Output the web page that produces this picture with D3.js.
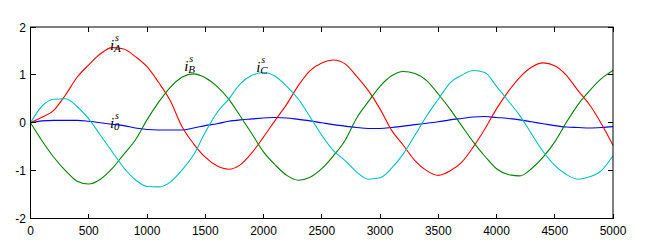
<!DOCTYPE html>
<html>
<head>
<meta charset="utf-8">
<script src="https://cdn.jsdelivr.net/npm/d3@7"></script>
<style>
  body { margin: 0; background: #fff; }
  svg { display: block; font-family: Arial, "Liberation Sans", sans-serif; }
  .tick-label { font-size: 12px; fill: #000; }
  .series { fill: none; stroke-width: 1.1; }
  .lbl { font-family: "Liberation Serif", "DejaVu Serif", serif; font-style: italic; fill: #000; }
</style>
</head>
<body>
<svg></svg>
<script>
// samples every 100 units
const xs = d3.range(0, 5001, 100)

const iA = [0, 0.12, 0.26, 0.58, 0.95, 1.21, 1.44, 1.57, 1.54, 1.38, 1.17, 0.84, 0.46, -0.08, -0.44, -0.72, -0.90,
  -0.97, -0.88, -0.63, -0.30, 0.05, 0.39, 0.78, 1.09, 1.25, 1.31, 1.23, 0.97, 0.67, 0.29, -0.16, -0.47, -0.79,
  -1.00, -1.10, -1.01, -0.83, -0.51, -0.13, 0.29, 0.65, 0.95, 1.16, 1.25, 1.19, 0.99, 0.67, 0.37, -0.02, -0.47]

const iB = [0, -0.38, -0.72, -1.00, -1.22, -1.28, -1.18, -0.96, -0.66, -0.36, 0.06, 0.43, 0.74, 0.95, 1.02, 0.94, 0.76,
  0.50, 0.14, -0.23, -0.61, -0.88, -1.10, -1.20, -1.14, -0.96, -0.69, -0.37, 0.10, 0.44, 0.76, 0.98, 1.07, 1.03,
  0.88, 0.60, 0.29, -0.06, -0.40, -0.70, -0.96, -1.08, -1.11, -0.96, -0.72, -0.40, 0.01, 0.38, 0.67, 0.92, 1.09]

const iC = [0, 0.35, 0.49, 0.50, 0.34, 0.08, -0.26, -0.60, -0.94, -1.19, -1.33, -1.34, -1.24, -0.99, -0.67, -0.20, 0.21,
  0.49, 0.81, 0.99, 1.05, 0.97, 0.76, 0.49, 0.12, -0.26, -0.58, -0.79, -1.03, -1.18, -1.15, -0.95, -0.65, -0.26,
  0.14, 0.49, 0.83, 0.99, 1.09, 1.05, 0.76, 0.46, 0.15, -0.23, -0.60, -0.89, -1.08, -1.18, -1.13, -1.00, -0.69]

const i0 = [0, 0.04, 0.05, 0.05, 0.05, 0.03, 0.00, -0.03, -0.06, -0.11, -0.14, -0.15, -0.15, -0.15, -0.11, -0.06, -0.02,
  0.03, 0.06, 0.08, 0.10, 0.11, 0.10, 0.07, 0.04, 0.00, -0.04, -0.07, -0.10, -0.12, -0.12, -0.10, -0.07, -0.04,
  -0.01, 0.02, 0.06, 0.09, 0.12, 0.13, 0.11, 0.09, 0.06, 0.02, -0.02, -0.06, -0.09, -0.10, -0.11, -0.10, -0.08]

const xTicks = d3.range(0, 5001, 500)
const yTicks = [-2, -1, 0, 1, 2]

// curve labels: subscript, anchor (data units)
const labelNames = ["A", "B", "C", "0"]
const labelX = [683, 1319, 1937, 683]
const labelY = [1.51, 1.09, 1.05, -0.10]

const series = [
  { values: i0, color: "#0000ff" },
  { values: iA, color: "#ff0000" },
  { values: iB, color: "#008000" },
  { values: iC, color: "#00bfbf" },
]

const svg = d3.select("svg")
  .attr("width", 646)
  .attr("height", 251)

const boxLeft = 30.5, boxRight = 613, boxTop = 27, boxBottom = 218.5

const x = d3.scaleLinear()
  .domain([0, 5000])
  .range([boxLeft, boxRight])

const y = d3.scaleLinear()
  .domain([-2, 2])
  .range([boxBottom, boxTop])

const line = d3.line()
  .x((d, i) => { return x(xs[i]) })
  .y((d, i) => { return y(d) })
  .curve(d3.curveMonotoneX)

svg.selectAll("path.series")
  .data(series)
  .enter()
  .append("path")
  .attr("class", "series")
  .attr("stroke", (d) => { return d.color })
  .attr("d", (d) => { return line(d.values) })

// box
svg.append("rect")
  .attr("x", boxLeft)
  .attr("y", boxTop)
  .attr("width", boxRight - boxLeft)
  .attr("height", boxBottom - boxTop)
  .attr("fill", "none")
  .attr("stroke", "#000")

// ticks inside the box, all four sides
const tickLen = 5
const tg = svg.append("g").attr("stroke", "#000").attr("shape-rendering", "crispEdges")

xTicks.forEach((t) => {
  tg.append("line").attr("x1", x(t)).attr("x2", x(t)).attr("y1", boxBottom).attr("y2", boxBottom - tickLen)
  tg.append("line").attr("x1", x(t)).attr("x2", x(t)).attr("y1", boxTop).attr("y2", boxTop + tickLen)
})
yTicks.forEach((t) => {
  tg.append("line").attr("x1", boxLeft).attr("x2", boxLeft + tickLen).attr("y1", y(t)).attr("y2", y(t))
  tg.append("line").attr("x1", boxRight).attr("x2", boxRight - tickLen).attr("y1", y(t)).attr("y2", y(t))
})

svg.selectAll("text.xt")
  .data(xTicks)
  .enter()
  .append("text")
  .attr("class", "tick-label xt")
  .attr("x", (d) => { return x(d) })
  .attr("y", 235)
  .attr("text-anchor", "middle")
  .text((d) => { return d })

svg.selectAll("text.yt")
  .data(yTicks)
  .enter()
  .append("text")
  .attr("class", "tick-label yt")
  .attr("x", 26)
  .attr("y", (d) => { return y(d) + 4.5 })
  .attr("text-anchor", "end")
  .text((d) => { return d })

// i with stacked superscript s and subscript
const labels = svg.selectAll("g.lbl")
  .data(labelNames)
  .enter()
  .append("g")
  .attr("class", "lbl")
  .attr("transform", (d, i) => { return `translate(${x(labelX[i])}, ${y(labelY[i])})` })

labels.append("text")
  .attr("x", 0)
  .attr("y", 0)
  .style("font-size", "15px")
  .text("i")

labels.append("text")
  .attr("x", 5)
  .attr("y", -9)
  .style("font-size", "10px")
  .text("s")

labels.append("text")
  .attr("x", 4)
  .attr("y", 2)
  .style("font-size", "11px")
  .text((d) => { return d })
</script>
</body>
</html>
